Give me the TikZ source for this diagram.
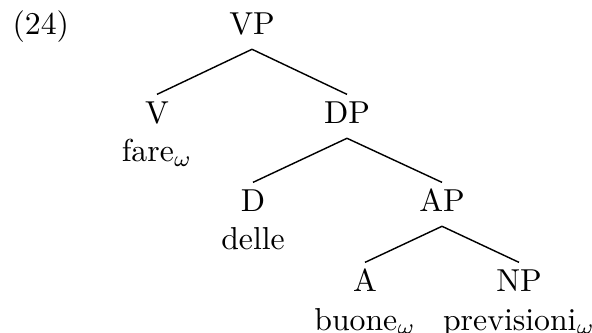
\documentclass[tikz,border=0pt]{standalone}
\begin{document}
\begin{tikzpicture}[x=0.315pt, y=-0.315pt,
  cat/.style={anchor=base, inner xsep=0pt, inner ysep=2.3pt,
              text height=6.83pt, text depth=2pt},
  word/.style={anchor=base, inner sep=0pt},
  branch/.style={line width=0.45pt}]
  \useasboundingbox (0,0) rectangle (592,333);
  % example number
  \node[anchor=base west, inner sep=0pt] (num) at (12,35) {(24)};
  % category labels
  \node[cat] (VP) at (252,35)  {VP};
  \node[cat] (V)  at (157,124) {V};
  \node[cat] (DP) at (347,124) {DP};
  \node[cat] (D)  at (253,212) {D};
  \node[cat] (AP) at (442,212) {AP};
  \node[cat] (A)  at (365,292) {A};
  \node[cat] (NP) at (519,292) {NP};
  % terminal words
  \node[word] (fare)  at (157,162) {fare$_\omega$};
  \node[word] (delle) at (253,250) {delle};
  \node[word] (buone) at (365,330) {buone$_\omega$};
  \node[word] (prev)  at (519,330) {previsioni$_\omega$};
  % branches
  \draw[branch] (VP.south) -- (V.north);
  \draw[branch] (VP.south) -- (DP.north);
  \draw[branch] (DP.south) -- (D.north);
  \draw[branch] (DP.south) -- (AP.north);
  \draw[branch] (AP.south) -- (A.north);
  \draw[branch] (AP.south) -- (NP.north);
\end{tikzpicture}
\end{document}
